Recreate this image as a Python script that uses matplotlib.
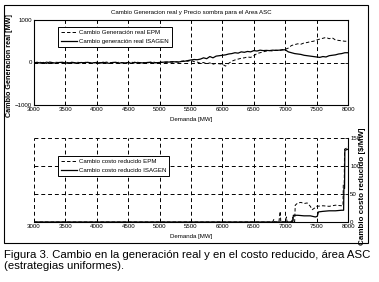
import matplotlib
matplotlib.use("Agg")
import matplotlib.pyplot as plt
from matplotlib.patches import Rectangle
from matplotlib.lines import Line2D
from matplotlib.transforms import blended_transform_factory

plt.rcParams['font.family'] = ['Liberation Sans', 'DejaVu Sans']

# ---------------- data ----------------
demand_top = list(range(3000, 8001, 50))

gen_epm = [0, -10, 5, -15, 10, -5, -20, 5, 0, -10,
           10, -5, 0, -15, 5, -10, 0, 10, -5, -10,
           5, 0, -15, 10, -5, 0, -10, 5, -5, -20,
           0, 10, -10, 5, -5, 0, -15, 5, 10, -5,
           0,
           10, 0, 15, 5, 20, 10, 30, 40, 30, 50,
           20, 10, -20, 0, -30, -10, -40, -20, -30, -40,
           -85, -20, 30, 60, 80, 100, 110, 130, 120, 160,
           210, 230, 250, 270, 280, 270, 290, 280, 300, 310,
           340, 400, 420, 440, 430, 460, 470, 490, 500, 530,
           550, 570, 590, 560, 580, 530, 520, 510, 500, 500]

gen_isagen = [-10, 5, -15, 0, -20, 10, -5, -15, 0, 5,
              -10, -20, 5, -5, -15, 0, -10, 5, -20, -5,
              0, -15, 5, -10, -20, 0, 5, -15, -5, -10,
              0, -20, 5, -10, -5, -15, 0, 5, -10, -5,
              0,
              5, 15, 10, 20, 15, 10, 25, 30, 45, 60,
              70, 65, 80, 110, 90, 140, 110, 150, 160, 170,
              180, 200, 210, 230, 220, 250, 240, 260, 250, 280,
              270, 290, 280, 285, 280, 290, 285, 290, 295, 300,
              250, 230, 210, 200, 190, 170, 160, 150, 140, 130,
              120, 140, 130, 160, 170, 180, 200, 210, 230, 230]

cost_epm_x = [3000, 6800, 6820, 6830, 6900, 6920, 6930, 7000, 7020, 7030,
              7100, 7120, 7130, 7150, 7160, 7200, 7250, 7300, 7350, 7400,
              7430, 7470, 7500, 7600, 7700, 7800, 7900, 7920, 7925, 7940,
              7945, 7980, 8000]
cost_epm_y = [0, 0, 5, 0, 0, 19, 0, 0, 9, 0,
              0, 8, 0, 0, 30, 34, 35, 33, 34, 28,
              22, 25, 28, 29, 28, 30, 29, 29, 66, 66,
              130, 132, 135]

cost_isagen_x = [3000, 7120, 7130, 7200, 7300, 7400, 7480, 7510, 7530, 7600,
                 7700, 7800, 7900, 7930, 7935, 7945, 7950, 8000]
cost_isagen_y = [0, 0, 12, 12, 11, 11, 9, 10, 18, 19,
                 20, 20, 21, 21, 60, 60, 128, 130]

xticks = [3000, 3500, 4000, 4500, 5000, 5500, 6000, 6500, 7000, 7500, 8000]
yticks_top = [-1000, 0, 1000]
yticks_bot = [0, 50, 100, 150]

# ---------------- figure ----------------
W, H = 379, 282
fig = plt.figure(figsize=(W / 100, H / 100), dpi=100)
fig.patch.set_facecolor('white')

def fx(px):
    return px / W

def fy(py):
    return 1 - py / H

# outer frame
fig.add_artist(Rectangle((fx(4), fy(243)), fx(368) - fx(4), fy(5) - fy(243),
                         transform=fig.transFigure, fill=False,
                         edgecolor='black', linewidth=0.8, zorder=5))

fs = 4.4
dash_grid = (0, (4.0, 3.0))
dash_data = (0, (3.5, 2.2))

def draw_grid(ax, xs, ys):
    tx = blended_transform_factory(ax.transData, ax.transAxes)
    ty = blended_transform_factory(ax.transAxes, ax.transData)
    for v in xs:
        fig.add_artist(Line2D([v, v], [0, 1], transform=tx, color='black',
                              linewidth=0.7, linestyle=dash_grid, zorder=4))
    for v in ys:
        fig.add_artist(Line2D([0, 1], [v, v], transform=ty, color='black',
                              linewidth=0.7, linestyle=dash_grid, zorder=4))

leg_kw = dict(loc='upper left', bbox_transform=fig.transFigure, fontsize=fs,
              frameon=True, fancybox=False, edgecolor='black', framealpha=1,
              handlelength=2.6, handletextpad=0.3, borderpad=0.5,
              labelspacing=0.62, borderaxespad=0)

# ---- top axes ----
ax1 = fig.add_axes([fx(34), fy(105), fx(348) - fx(34), fy(20) - fy(105)])
ax1.set_xlim(3000, 8000)
ax1.set_ylim(-1000, 1000)
l1, = ax1.plot(demand_top, gen_epm, color='black', linewidth=0.7, linestyle=dash_data,
               label='Cambio Generación real EPM')
l2, = ax1.plot(demand_top, gen_isagen, color='black', linewidth=0.9,
               label='Cambio generación real ISAGEN')
ax1.set_xticks(xticks)
ax1.set_yticks(yticks_top)
ax1.tick_params(labelsize=fs, direction='in', length=2, width=0.6, pad=1.5,
                top=True, right=True)
for s in ax1.spines.values():
    s.set_linewidth(0.8)
ax1.set_title('Cambio Generacion real y Precio sombra para el Area ASC',
              fontsize=fs, pad=4)
ax1.set_xlabel('Demanda [MW]', fontsize=fs, labelpad=3.5)
ax1.set_ylabel('Cambio Generacion real [MW]', fontsize=5.2, fontweight='bold')
ax1.yaxis.set_label_coords(-0.066, 0.46)

# ---- bottom axes ----
ax2 = fig.add_axes([fx(34), fy(222), fx(348) - fx(34), fy(138) - fy(222)])
ax2.set_xlim(3000, 8000)
ax2.set_ylim(0, 150)
l3, = ax2.plot(cost_epm_x, cost_epm_y, color='black', linewidth=0.7, linestyle=dash_data,
               label='Cambio costo reducido EPM')
l4, = ax2.plot(cost_isagen_x, cost_isagen_y, color='black', linewidth=0.9,
               label='Cambio costo reducido ISAGEN')
ax2.set_xticks(xticks)
ax2.set_yticks(yticks_bot)
ax2.yaxis.tick_right()
ax2.yaxis.set_label_position('right')
ax2.spines['left'].set_visible(False)
ax2.spines['top'].set_visible(False)
ax2.spines['right'].set_linewidth(0.8)
ax2.spines['bottom'].set_linewidth(0.8)
ax2.tick_params(labelsize=fs, direction='in', length=2, width=0.6, pad=1.5)
ax2.set_xlabel('Demanda [MW]', fontsize=fs, labelpad=3.5)
ax2.set_ylabel('Cambio costo reducido [\\$/MW]', fontsize=5.8, fontweight='bold',
               rotation=90)
ax2.yaxis.set_label_coords(1.036, 0.43)

# grids
draw_grid(ax1, xticks[1:-1], [0])
draw_grid(ax2, xticks[:-1], yticks_bot[1:])

# legends at figure level so they sit above the grid lines
leg1 = fig.legend([l1, l2], [l1.get_label(), l2.get_label()],
                  bbox_to_anchor=(fx(58), fy(27)), **leg_kw)
leg1.get_frame().set_linewidth(0.7)
leg1.set_zorder(8)
leg2 = fig.legend([l3, l4], [l3.get_label(), l4.get_label()],
                  bbox_to_anchor=(fx(58), fy(156)), **leg_kw)
leg2.get_frame().set_linewidth(0.7)
leg2.set_zorder(8)

# caption
fig.text(fx(4), fy(250),
         'Figura 3. Cambio en la generación real y en el costo reducido, área ASC\n'
         '(estrategias uniformes).',
         fontsize=8.2, ha='left', va='top', linespacing=1.1)

fig.savefig('out.png', dpi=100)
